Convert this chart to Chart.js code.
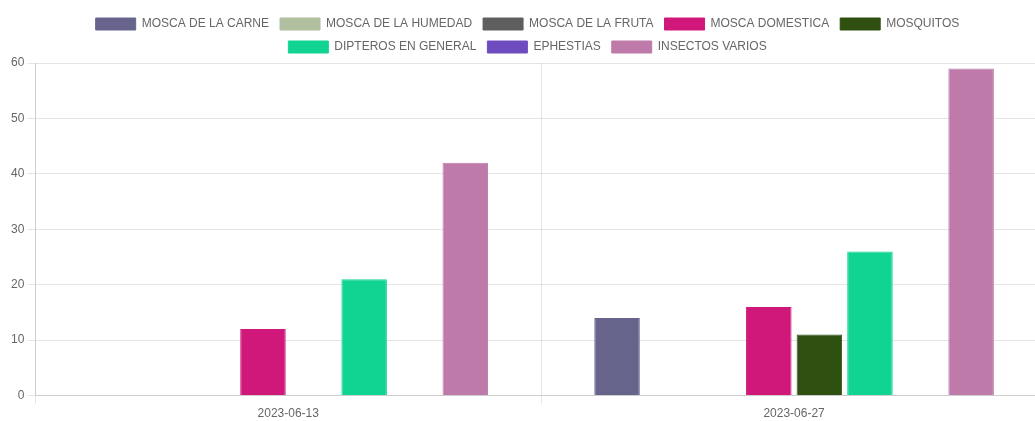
<!DOCTYPE html>
<html>
<head>
<meta charset="utf-8">
<script src="https://cdn.jsdelivr.net/npm/chart.js@4"></script>
<style>
  html, body { margin: 0; padding: 0; background: #fff; overflow: hidden; }
  #wrap { width: 1056px; height: 421px; }
</style>
</head>
<body>
<div id="wrap"><canvas id="myChart"></canvas></div>
<script>
const categories = ['2023-06-13', '2023-06-27'];
const seriesNames = ['MOSCA DE LA CARNE', 'MOSCA DE LA HUMEDAD', 'MOSCA DE LA FRUTA', 'MOSCA DOMESTICA',
                     'MOSQUITOS', 'DIPTEROS EN GENERAL', 'EPHESTIAS', 'INSECTOS VARIOS'];
const moscaCarne = [0, 14];
const moscaHumedad = [0, 0];
const moscaFruta = [0, 0];
const moscaDomestica = [12, 16];
const mosquitos = [0, 11];
const dipteros = [21, 26];
const ephestias = [0, 0];
const insectosVarios = [42, 59];
const seriesColors = ['#67648c', '#b0bf9f', '#5e5e5e', '#d0187a', '#2f5010', '#12d492', '#6e4cc0', '#be7baa'];

const allValues = [moscaCarne, moscaHumedad, moscaFruta, moscaDomestica, mosquitos, dipteros, ephestias, insectosVarios];

Chart.defaults.font.family = 'Arial, "Liberation Sans", sans-serif';
Chart.defaults.font.size = 12;
Chart.defaults.color = '#666';

const ctx = document.getElementById('myChart').getContext('2d');
const barChart = new Chart(ctx, {
    type: 'bar',
    data: {
        labels: categories,
        datasets: seriesNames.map((name, i) => ({
            label: name,
            data: allValues[i],
            backgroundColor: seriesColors[i],
            borderColor: seriesColors[i],
            borderWidth: 1
        }))
    },
    options: {
        responsive: true,
        maintainAspectRatio: false,
        animation: false,
        layout: { padding: { left: 8, right: 9, top: 7, bottom: -3 } },
        scales: {
            y: {
                beginAtZero: true,
                max: 60,
                ticks: { stepSize: 10 }
            }
        },
        plugins: {
            legend: {
                labels: {
                    boxWidth: 40,
                    boxHeight: 12,
                    padding: 11
                }
            },
            tooltip: { enabled: false }
        }
    }
});
</script>
</body>
</html>
